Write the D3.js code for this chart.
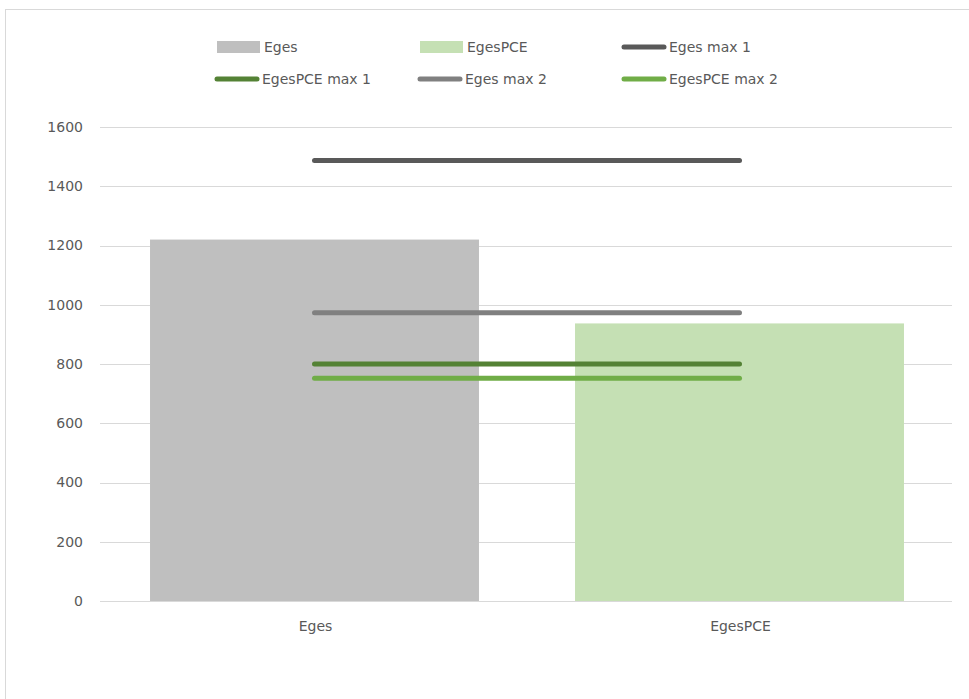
<!DOCTYPE html>
<html><head><meta charset="utf-8">
<script src="https://cdn.jsdelivr.net/npm/d3@7"></script>
<style>body{margin:0;background:#fff;}svg{display:block;font-family:"DejaVu Sans",sans-serif;}</style>
</head><body>
<svg id="c" width="969" height="699"></svg>
<script>
const categories = ["Eges", "EgesPCE"];
const barValues = [1220, 937];
const barNames = ["Eges", "EgesPCE"];
const lineNames = ["Eges max 1", "EgesPCE max 1", "Eges max 2", "EgesPCE max 2"];
const egesMax1 = [1487, 1487];
const egesPceMax1 = [800, 800];
const egesMax2 = [973, 973];
const egesPceMax2 = [752, 752];
const yTicks = [0, 200, 400, 600, 800, 1000, 1200, 1400, 1600];

const barColors = ["#bfbfbf", "#c5e0b4"];
const lineSeries = [
  {name: lineNames[0], values: egesMax1, color: "#595959"},
  {name: lineNames[1], values: egesPceMax1, color: "#548235"},
  {name: lineNames[2], values: egesMax2, color: "#808080"},
  {name: lineNames[3], values: egesPceMax2, color: "#70ad47"}
];

const svg = d3.select("#c");
// frame
svg.append("rect").attr("x", 5.5).attr("y", 9.5).attr("width", 980).attr("height", 720)
  .attr("fill", "#fff").attr("stroke", "#d9d9d9");

const pLeft = 102, pRight = 952, pTop = 127, pBottom = 601;
const x = d3.scaleBand().domain(categories).range([pLeft, pRight]).paddingInner(0.226).paddingOuter(0.113);
const y = d3.scaleLinear().domain([0, 1600]).range([pBottom, pTop]);

// gridlines
svg.append("g").selectAll("line").data(yTicks).join("line")
  .attr("x1", 100).attr("x2", pRight)
  .attr("y1", d => Math.round(y(d)) + 0.5).attr("y2", d => Math.round(y(d)) + 0.5)
  .attr("stroke", "#d9d9d9").attr("stroke-width", 1);

// y labels
svg.append("g").selectAll("text").data(yTicks).join("text")
  .attr("x", 83).attr("y", d => y(d)).attr("dy", "0.35em")
  .attr("text-anchor", "end").attr("fill", "#595959").attr("font-size", 14)
  .text(d => d);

// bars
svg.append("g").selectAll("rect").data(categories).join("rect")
  .attr("x", d => x(d)).attr("width", x.bandwidth())
  .attr("y", (d, i) => y(barValues[i])).attr("height", (d, i) => y(0) - y(barValues[i]))
  .attr("fill", (d, i) => barColors[i]);

// x labels
svg.append("g").selectAll("text").data(categories).join("text")
  .attr("x", d => x(d) + x.bandwidth() / 2 + 1).attr("y", 631)
  .attr("text-anchor", "middle").attr("fill", "#595959").attr("font-size", 14)
  .text(d => d);

// lines
const line = d3.line().x((d, i) => x(categories[i]) + x.bandwidth() / 2).y(d => y(d));
svg.append("g").selectAll("path").data(lineSeries).join("path")
  .attr("d", d => line(d.values))
  .attr("fill", "none").attr("stroke", d => d.color).attr("stroke-width", 5)
  .attr("stroke-linecap", "round");

// legend
const legendItems = [
  {name: barNames[0], type: "bar", color: barColors[0], x: 217, y: 47},
  {name: barNames[1], type: "bar", color: barColors[1], x: 420, y: 47},
  {name: lineSeries[0].name, type: "line", color: lineSeries[0].color, x: 622, y: 47},
  {name: lineSeries[1].name, type: "line", color: lineSeries[1].color, x: 215, y: 79},
  {name: lineSeries[2].name, type: "line", color: lineSeries[2].color, x: 418, y: 79},
  {name: lineSeries[3].name, type: "line", color: lineSeries[3].color, x: 622, y: 79}
];
const lg = svg.append("g").selectAll("g").data(legendItems).join("g")
  .attr("transform", d => `translate(${d.x},${d.y})`);
lg.filter(d => d.type === "bar").append("rect")
  .attr("x", 0).attr("y", -6).attr("width", 43).attr("height", 12).attr("fill", d => d.color);
lg.filter(d => d.type === "line").append("line")
  .attr("x1", 2).attr("x2", 42).attr("y1", 0).attr("y2", 0)
  .attr("stroke", d => d.color).attr("stroke-width", 5).attr("stroke-linecap", "round");
lg.append("text").attr("x", 47).attr("y", 0).attr("dy", "0.35em")
  .attr("fill", "#595959").attr("font-size", 14).text(d => d.name);
</script>
</body></html>
